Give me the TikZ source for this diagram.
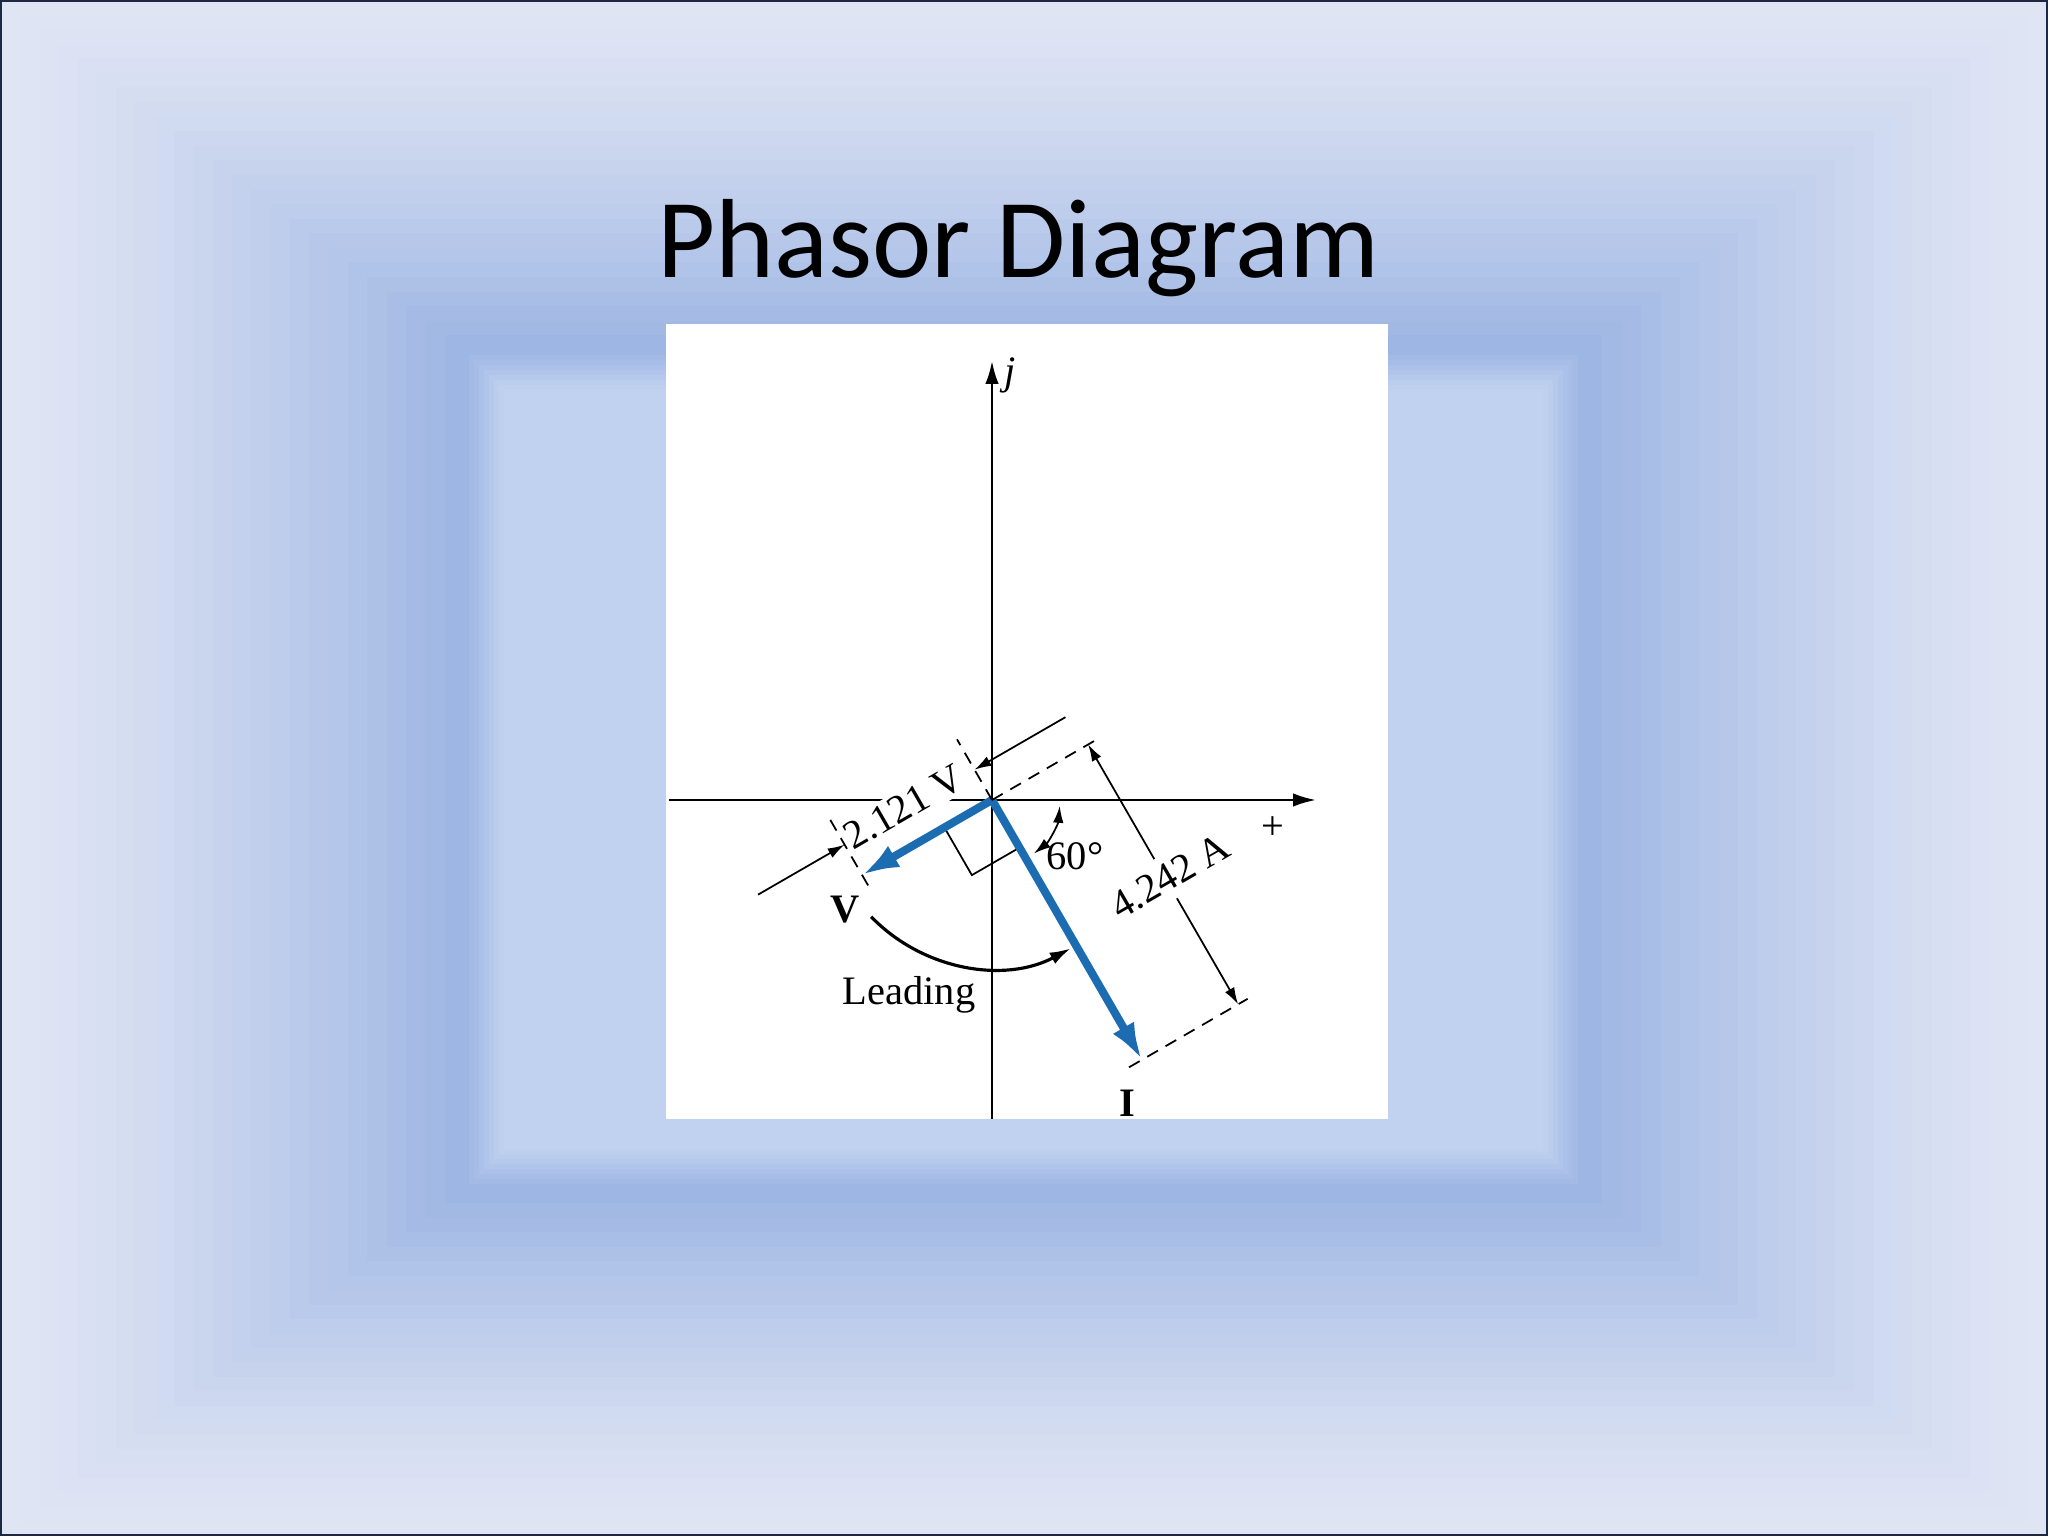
\documentclass[tikz,border=0pt]{standalone}
\usepackage{fontspec}
\setmainfont{Liberation Serif}
\newfontfamily\titlefont{Carlito}
\usetikzlibrary{calc}
\usetikzlibrary{arrows.meta}
\usetikzlibrary{positioning}
\definecolor{bg-edge}{RGB}{224, 229, 244}
\definecolor{bg-deep}{RGB}{154, 179, 226}
\definecolor{bg-inner}{RGB}{193, 210, 240}
\definecolor{phasor-blue}{RGB}{28, 108, 178}
\definecolor{frame-line}{RGB}{30, 40, 66}
\tikzset{
  axis/.style={line width=0.7pt, -{Latex[length=6.5pt,width=3.8pt]}},
  phasor/.style={phasor-blue, line width=2.3pt, -{Latex[length=10.5pt,width=7pt]}},
  dimline/.style={line width=0.5pt},
  dimtip/.style={-{Latex[length=4.8pt,width=3pt]}},
  dimboth/.style={{Latex[length=4.8pt,width=3pt]}-{Latex[length=4.8pt,width=3pt]}},
  extline/.style={line width=0.5pt, dash pattern=on 3.5pt off 2.5pt},
  lbl/.style={font=\fontsize{11.5}{13}\selectfont, inner sep=1pt},
}

\begin{document}
\begin{tikzpicture}[x=0.01cm, y=0.01cm]
\useasboundingbox (0,0) rectangle (2048,1536);
% background frame
\foreach \k in {0,...,23}{
  \pgfmathsetmacro{\t}{\k/24}
  \pgfmathtruncatemacro{\p}{100*(\t^1.3)}
  \fill[bg-deep!\p!bg-edge] (464*\t,347*\t) rectangle ({2048-465*\t},{1536-350*\t});
}
\foreach \k in {0,...,7}{
  \pgfmathtruncatemacro{\p}{90-12*\k}
  \fill[bg-deep!\p!bg-inner] ({464+5*\k},{347+5*\k}) rectangle ({1583-5*\k},{1186-5*\k});
}
\fill[bg-inner] (504,387) rectangle (1543,1146);
\draw[frame-line, line width=0.6pt] (1,1) rectangle (2047,1535);

\node[font=\titlefont\fontsize{32}{36}\selectfont, anchor=base] (title) at (1018,1258) {Phasor Diagram};

% figure panel
\fill[white] (666,417) rectangle (1388,1212);

\coordinate (O) at (992,736);
\coordinate (V) at ($(O)+(210:150)$);
\coordinate (I) at ($(O)+(-60:300)$);
\coordinate (xl) at (669,736);
\coordinate (xr) at (1316,736);
\coordinate (yb) at (992,417);
\coordinate (yt) at (992,1175);

% axes
\draw[axis] (xl) -- (xr);
\draw[axis] (yb) -- (yt);
\node[lbl, anchor=west] (jlbl) at ($(O)+(8,425)$) {\textit{j}};
\node[lbl] (plus) at ($(O)+(281,-28)$) {+};

% right angle
\draw[dimline] ($(O)+(210:55)$) -- ($(O)+(210:55)+(-60:55)$) -- ($(O)+(-60:55)$);

% phasors
\draw[phasor] (O) -- (V);
\draw[phasor] (O) -- (I);
\node[lbl] (vlbl) at ($(O)+(-147,-110)$) {\textbf{V}};
\node[lbl] (ilbl) at ($(O)+(135,-303)$) {\textbf{I}};

% magnitude of V
\node[lbl, fill=white, rotate=30] (vmag) at ($(O)+(210:80)+(120:38)$) {2.121 V};
\draw[extline] (O) -- ($(O)+(120:70)$);
\draw[extline] ($(V)+(300:12)$) -- ($(V)+(120:68)$);
\draw[dimline, dimtip] ($(O)+(120:35)+(30:105)$) -- ($(O)+(120:35)$);
\draw[dimline, dimtip] ($(V)+(120:35)+(210:100)$) -- ($(V)+(120:35)$);

% magnitude of I
\draw[extline] (O) -- ($(O)+(30:122)$);
\draw[extline] ($(I)+(210:15)$) -- ($(I)+(30:122)$);
\draw[dimline, dimboth] ($(O)+(30:111)$) -- ($(I)+(30:111)$);
\node[lbl, fill=white, inner sep=2.5pt, rotate=30] (imag) at ($(O)+(-60:155)+(30:116)$) {4.242 A};

% angles
\draw[dimline, dimboth] ($(O)+(-5:68)$) arc (-5:-52:68);
\node[lbl] (ang) at ($(O)+(-34:100)$) {60°};
\draw[line width=0.9pt, -{Latex[length=6pt,width=3.6pt]}] ($(O)+(224:168)$) arc (224:298:168);
\node[lbl] (lead) at ($(O)+(-83,-195)$) {Leading};
\end{tikzpicture}
\end{document}
